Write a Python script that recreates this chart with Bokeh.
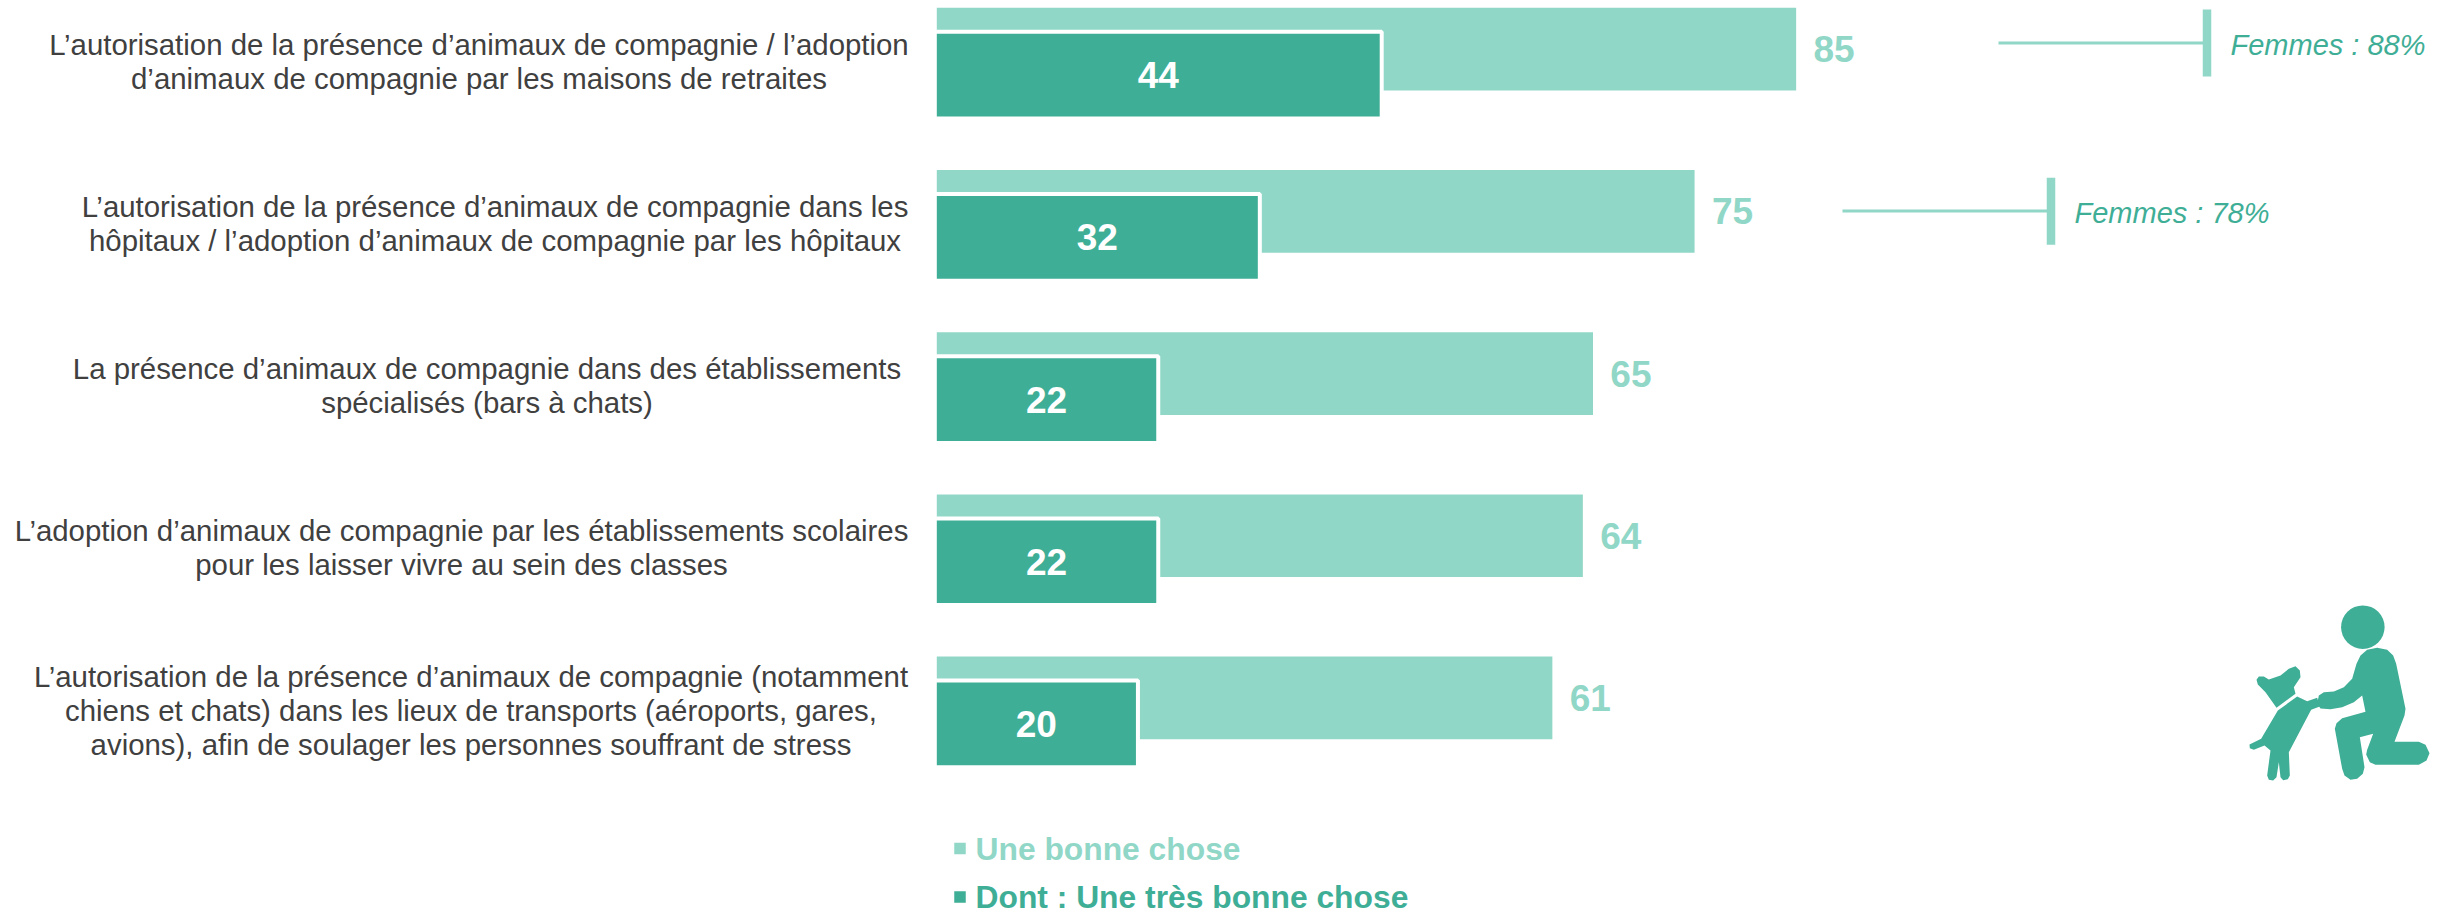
from bokeh.plotting import figure
from bokeh.models import Range1d
from bokeh.core.properties import value
from bokeh.embed import file_html
from bokeh.resources import INLINE

# ---- data ----
label_lines = [
    ["L’autorisation de la présence d’animaux de compagnie / l’adoption",
     "d’animaux de compagnie par les maisons de retraites"],
    ["L’autorisation de la présence d’animaux de compagnie dans les",
     "hôpitaux / l’adoption d’animaux de compagnie par les hôpitaux"],
    ["La présence d’animaux de compagnie dans des établissements",
     "spécialisés (bars à chats)"],
    ["L’adoption d’animaux de compagnie par les établissements scolaires",
     "pour les laisser vivre au sein des classes"],
    ["L’autorisation de la présence d’animaux de compagnie (notamment",
     "chiens et chats) dans les lieux de transports (aéroports, gares,",
     "avions), afin de soulager les personnes souffrant de stress"],
]
bonne = [85, 75, 65, 64, 61]
tres_bonne = [44, 32, 22, 22, 20]
femmes_labels = ["Femmes : 88%", "Femmes : 78%"]
legend_labels = ["Une bonne chose", "Dont : Une très bonne chose"]

LIGHT = "#90D7C7"
DARK = "#3FAE96"
GREY = "#404040"
FONT = value("Liberation Sans")

W, H = 2453, 914
X0, PX_PER_UNIT = 934.3, 10.157
Y0, ROW = 61.65, 162.2

def dx(px):
    return (px - X0) / PX_PER_UNIT
def dy(py):
    return (py - Y0) / ROW
def rx(px):
    return px / PX_PER_UNIT
def ry(py):
    return py / ROW

p = figure(width=W, height=H, output_backend="svg", toolbar_location=None,
           x_range=Range1d(dx(0), dx(W)), y_range=Range1d(dy(H), dy(0)),
           min_border=0, outline_line_color=None,
           x_axis_type=None, y_axis_type=None)
p.grid.visible = False
p.background_fill_color = "white"
p.border_fill_color = "white"

rows = list(range(len(bonne)))

# bars: both series carry a white outline, as in the original
p.hbar(y=[r - ry(13) for r in rows], left=0, right=bonne, height=ry(86.7),
       fill_color=LIGHT, line_color="white", line_width=4)
p.hbar(y=[r + ry(13) for r in rows], left=0, right=tres_bonne, height=ry(86.7),
       fill_color=DARK, line_color="white", line_width=4)

# value labels
p.text(x=[v + rx(15.3) for v in bonne], y=[r - ry(13) for r in rows],
       text=[str(v) for v in bonne], text_font=FONT, text_font_style="bold",
       text_font_size="37px", text_color=LIGHT, text_align="left", text_baseline="middle")
p.text(x=[v / 2 for v in tres_bonne], y=[r + ry(13) for r in rows],
       text=[str(v) for v in tres_bonne], text_font=FONT, text_font_style="bold",
       text_font_size="37px", text_color="white", text_align="center", text_baseline="middle")

# category labels, one text per line, centred on their block
centres = [478.5, 494.5, 486.5, 461, 470.5]
LINE = 34
lx, ly, lt = [], [], []
for r, lines in enumerate(label_lines):
    for i, t in enumerate(lines):
        lx.append(dx(centres[r]))
        ly.append(r + ry(LINE * (i - (len(lines) - 1) / 2) + (-0.8 if r < 4 else 0)))
        lt.append(t)
p.text(x=lx, y=ly, text=lt, text_font=FONT, text_font_size="29.4px", text_color=GREY,
       text_align="center", text_baseline="middle")

# "Femmes" call-outs
h_left = [1998, 1842]
h_right = [2204, 2048]
h_y = [42.5, 210.5]
v_x = [2206.5, 2050.5]
v_top = [9, 177.3]
v_bot = [76, 244.3]
t_x = [2230, 2074]
t_y = [44, 212]
p.segment(x0=[dx(a) for a in h_left], x1=[dx(a) for a in h_right],
          y0=[dy(a) for a in h_y], y1=[dy(a) for a in h_y], line_color=LIGHT, line_width=3)
p.segment(x0=[dx(a) for a in v_x], x1=[dx(a) for a in v_x],
          y0=[dy(a) for a in v_top], y1=[dy(a) for a in v_bot], line_color=LIGHT, line_width=8.5)
p.text(x=[dx(a) for a in t_x], y=[dy(a) for a in t_y], text=femmes_labels, text_font=FONT,
       text_font_style="italic", text_font_size="29px", text_color=DARK,
       text_align="left", text_baseline="middle")

# legend
leg_y = [848, 896.5]
leg_col = [LIGHT, DARK]
p.rect(x=[dx(959.5)] * 2, y=[dy(a) for a in leg_y], width=rx(11.5), height=ry(11.5),
       fill_color=leg_col, line_color=None)
p.text(x=[dx(975)] * 2, y=[dy(a) for a in leg_y], text=legend_labels, text_font=FONT,
       text_font_style="bold", text_font_size="31.8px", text_color=leg_col,
       text_align="left", text_baseline="middle")

# pictogram: person and dog (outline traced at 3x from the corner 2200,580)
person = [(530,202),(560,208),(578,225),(587,250),(615,385),(612,405),(582,484),(655,484),
          (675,493),(687,518),(678,540),(655,553),(525,553),(508,545),(497,522),(500,508),
          (518,460),(478,470),(492,560),(487,580),(470,595),(450,598),(432,585),(425,565),
          (403,445),(408,428),(425,413),(495,394),(485,345),(460,365),(425,380),(390,386),
          (360,384),(350,370),(355,345),(370,335),(400,333),(430,320),(455,295),(468,250),
          (480,225),(500,208)]
dog_head = [(168,298),(175,288),(190,288),(205,297),(240,285),(265,265),(285,257),(298,270),
            (300,290),(280,320),(285,340),(228,382),(195,335),(172,312)]
dog_body = [(290,348),(320,362),(350,352),(358,378),(332,388),(265,515),(268,585),(262,596),
            (248,599),(240,590),(235,545),(228,590),(218,600),(205,598),(200,585),(210,510),
            (192,495),(160,508),(148,503),(147,492),(182,475),(232,390)]
def ix(a):
    return dx(2200 + a / 3)
def iy(a):
    return dy(580 + a / 3)
shapes = (person, dog_head, dog_body)
p.patches(xs=[[ix(a) for a, b in s] for s in shapes],
          ys=[[iy(b) for a, b in s] for s in shapes],
          fill_color=DARK, line_color=None)
p.ellipse(x=[ix(487)], y=[iy(140)], width=rx(43.5), height=ry(43.5), fill_color=DARK, line_color=None)

open("out.html", "w").write(file_html(p, INLINE))
